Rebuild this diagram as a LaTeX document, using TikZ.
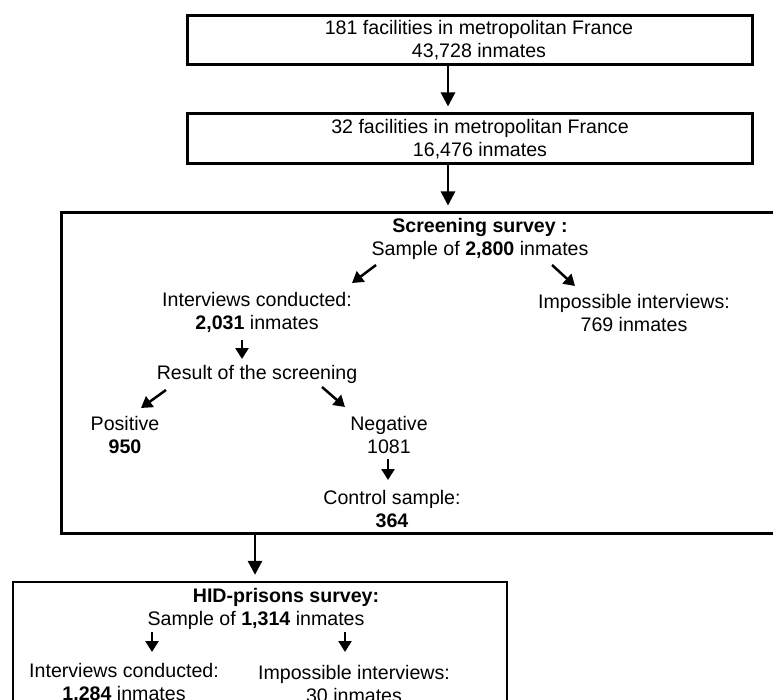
\documentclass[tikz,border=0pt]{standalone}
\usepackage{fontspec}
\setmainfont{Liberation Sans}
\usetikzlibrary{arrows.meta}

\begin{document}
\begin{tikzpicture}[
x=1pt, y=-1pt,
box/.style={
  draw,
  line width=3pt,
  inner sep=0pt
  },
thinbox/.style={draw, line width=2.3pt, inner sep=0pt},
txt/.style={align=center, inner sep=0pt, font=\fontsize{19.6}{23}\selectfont},
bigarrow/.style={-{Triangle[length=14pt,width=14pt]}, line width=2.8pt, shorten >=6pt},
smallarrow/.style={-{Triangle[length=11pt,width=13pt]}, line width=2.5pt}
]
\useasboundingbox (0,0) rectangle (773,700);
\clip (0,0) rectangle (773,700);

% facilities
\node[box, minimum width=565, minimum height=49] (allbox) at (470,40.5) {};
\node[txt] (all) at (479,40.5) {181 facilities in metropolitan France\\43,728 inmates};
\node[box, minimum width=565, minimum height=50] (selbox) at (470,139) {};
\node[txt] (sel) at (480,139) {32 facilities in metropolitan France\\16,476 inmates};

% screening survey
\node[box, minimum width=729, minimum height=320] (screenbox) at (425.5,373) {};
\node[txt] (screen) at (480,239) {\textbf{Screening survey :}\\Sample of \textbf{2,800} inmates};
\node[txt] (done) at (257,312.5) {Interviews conducted:\\\textbf{2,031} inmates};
\node[txt] (failed) at (634,312.5) {Impossible interviews:\\769 inmates};
\node[txt] (result) at (257,374) {Result of the screening};
\node[txt] (pos) at (125,435) {Positive\\\textbf{950}};
\node[txt] (neg) at (389,435) {Negative\\1081};
\node[txt] (control) at (392,509) {Control sample:\\\textbf{364}};

% HID-prisons survey
\node[thinbox, minimum width=494, minimum height=140] (hidbox) at (260,652) {};
\node[txt] (hid) at (286,597) {\textbf{HID-prisons survey:}};
\node[txt] (hidsample) at (256,620) {Sample of \textbf{1,314} inmates};
\node[txt] (hiddone) at (124,683.5) {Interviews conducted:\\\textbf{1,284} inmates};
\node[txt] (hidfailed) at (354,683.5) {Impossible interviews:\\30 inmates};

% flow between boxes
\coordinate (spine) at (448,0);
\coordinate (drop) at (255,0);
\draw[bigarrow] (allbox.south -| spine) -- (selbox.north -| spine);
\draw[bigarrow] (selbox.south -| spine) -- (screenbox.north -| spine);
\draw[bigarrow] (screenbox.south -| drop) -- (hidbox.north -| drop);

% flow inside boxes
\draw[smallarrow] ([shift={(-104,26)}]screen.center) -- ([shift={(95,-29.5)}]done.center);
\draw[smallarrow] ([shift={(72,26)}]screen.center) -- ([shift={(-59,-26.5)}]failed.center);
\draw[smallarrow] ([shift={(-15,27.5)}]done.center) -- ([shift={(-15,-15)}]result.center);
\draw[smallarrow] ([shift={(-91,16)}]result.center) -- ([shift={(16,-27)}]pos.center);
\draw[smallarrow] ([shift={(65,13)}]result.center) -- ([shift={(-44,-28)}]neg.center);
\draw[smallarrow] ([shift={(-1,24)}]neg.center) -- ([shift={(-4,-29)}]control.center);
\draw[smallarrow] ([shift={(-104,12)}]hidsample.center) -- ([shift={(28,-31.5)}]hiddone.center);
\draw[smallarrow] ([shift={(89,12)}]hidsample.center) -- ([shift={(-9,-31.5)}]hidfailed.center);
\end{tikzpicture}
\end{document}
